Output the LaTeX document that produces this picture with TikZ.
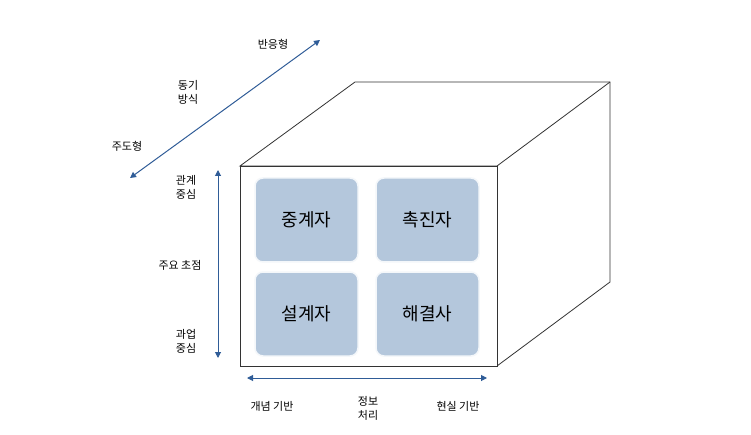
\documentclass[tikz,border=0pt]{standalone}
\usepackage{fontspec}
\setmainfont{Noto Sans CJK KR}
\usetikzlibrary{arrows.meta}
\definecolor{arr}{HTML}{2F5C97}
\definecolor{boxf}{HTML}{B4C7DC}
\tikzset{
 edge/.style={draw=black!80,line width=0.8pt},
 role/.style={draw=white!85!boxf,line width=1.5pt,fill=boxf,rounded corners=8pt,minimum width=103pt,minimum height=84pt,font=\fontsize{18}{21}\selectfont},
 lab/.style={font=\fontsize{11}{14}\selectfont,align=center},
 dbl/.style={draw=arr,line width=1pt,{Triangle[length=6pt,width=6pt]}-{Triangle[length=6pt,width=6pt]}}
}
\begin{document}
\begin{tikzpicture}[x=1pt,y=-1pt]
\useasboundingbox (0,0) rectangle (751,435);
\coordinate (f1) at (240,166); \coordinate (f2) at (497,166);
\coordinate (f3) at (497,366); \coordinate (f4) at (240,366);
\coordinate (b1) at (355,82); \coordinate (b2) at (610,82); \coordinate (b3) at (610,282);
\draw[edge,fill=white] (f1)--(b1)--(b2)--(b3)--(f3)--(f2)--cycle;
\draw[edge] (f2)--(b2);
\draw[edge,fill=white] (f1) rectangle (f3);
\node[role] (n1) at (306.5,220) {중계자};
\node[role] (n2) at (427.5,220) {촉진자};
\node[role] (n3) at (306.5,314) {설계자};
\node[role] (n4) at (427.5,314) {해결사};
\coordinate (d1) at (130,178); \coordinate (d2) at (320,40);
\draw[dbl] (d1)--(d2);
\coordinate (v1) at (218,170); \coordinate (v2) at (218,358);
\draw[dbl] (v1)--(v2);
\coordinate (h1) at (247,378); \coordinate (h2) at (487,378);
\draw[dbl] (h1)--(h2);
\node[lab] (t1) at (273,44) {반응형};
\node[lab] (t2) at (188,92) {동기\\방식};
\node[lab] (t3) at (127,146) {주도형};
\node[lab] (t4) at (186,187) {관계\\중심};
\node[lab] (t5) at (180,265) {주요 초점};
\node[lab] (t6) at (186,341) {과업\\중심};
\node[lab] (t7) at (272,406) {개념 기반};
\node[lab] (t8) at (368,408) {정보\\처리};
\node[lab] (t9) at (458,406) {현실 기반};
\end{tikzpicture}
\end{document}
